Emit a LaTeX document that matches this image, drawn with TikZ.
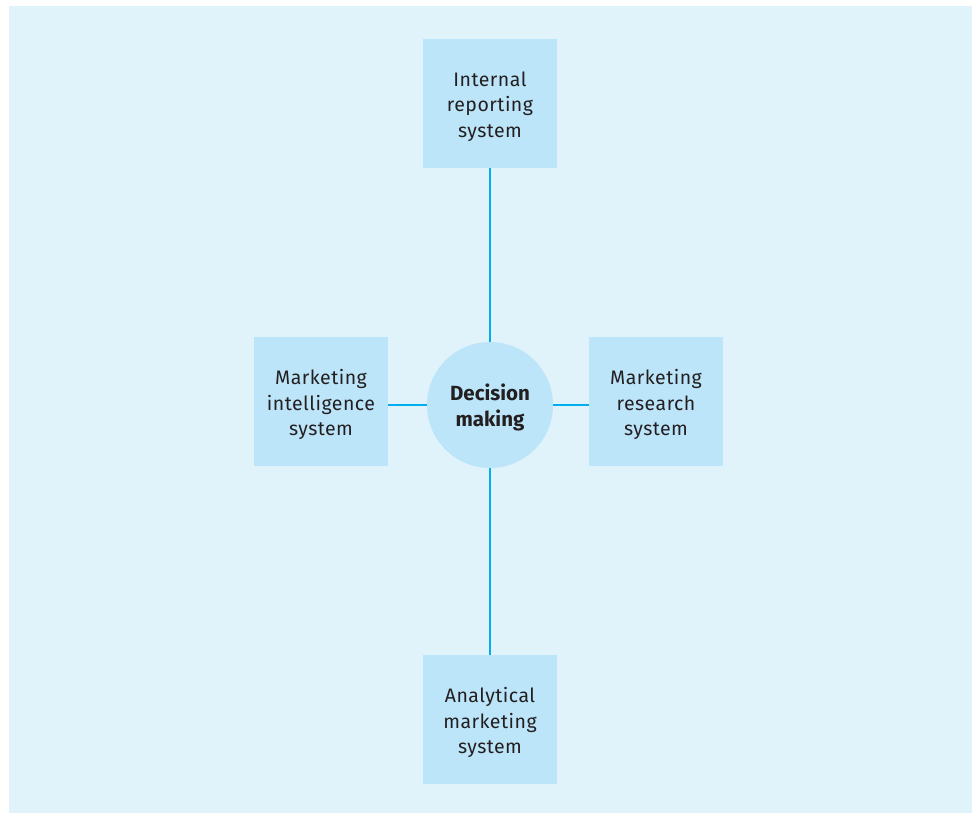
\documentclass[tikz,border=0pt]{standalone}
\usepackage{fontspec}
\setmainfont{Fira Sans}
\definecolor{bgc}{HTML}{E0F2FA}
\definecolor{boxc}{HTML}{BCE5F9}
\definecolor{linec}{HTML}{00AEEF}
\definecolor{txtc}{HTML}{231F20}
\begin{document}
\begin{tikzpicture}[x=1pt,y=-1pt,
  sysbox/.style={rectangle, fill=boxc, minimum width=134pt, minimum height=129pt, inner sep=0pt},
  systext/.style={inner sep=0pt, align=center, text=txtc, font=\fontsize{19.5}{25.5}\selectfont\addfontfeatures{LetterSpace=2.5}},
  hub/.style={circle, fill=boxc, minimum size=126pt, inner sep=0pt},
  hubtext/.style={inner sep=0pt, align=center, text=txtc, font=\fontsize{20.5}{26}\selectfont\bfseries},
  conn/.style={draw=linec, line width=2.5pt}]
\useasboundingbox (0,0) rectangle (972,813);
\fill[bgc] (9,6) rectangle (972,813);
\node[hub] (c) at (490,405) {};
\node[hubtext] (ct) at ([yshift=-2pt]c.center) {Decision\\making};
\node[sysbox] (t) at (490,103.5) {};
\node[sysbox] (l) at (321,401.5) {};
\node[sysbox] (r) at (656,401.5) {};
\node[sysbox] (b) at (490,719.5) {};
\node[systext] (tt) at ([yshift=-3pt]t.center) {Internal\\reporting\\system};
\node[systext] (lt) at ([yshift=-3pt]l.center) {Marketing\\intelligence\\system};
\node[systext] (rt) at ([yshift=-3pt]r.center) {Marketing\\research\\system};
\node[systext] (bt) at ([yshift=-3pt]b.center) {Analytical\\marketing\\system};
\draw[conn] (t.south) -- (c.north);
\draw[conn] (c.south) -- (b.north);
\draw[conn] (l.east |- c.center) -- (c.west);
\draw[conn] (c.east) -- (r.west |- c.center);
\end{tikzpicture}
\end{document}
